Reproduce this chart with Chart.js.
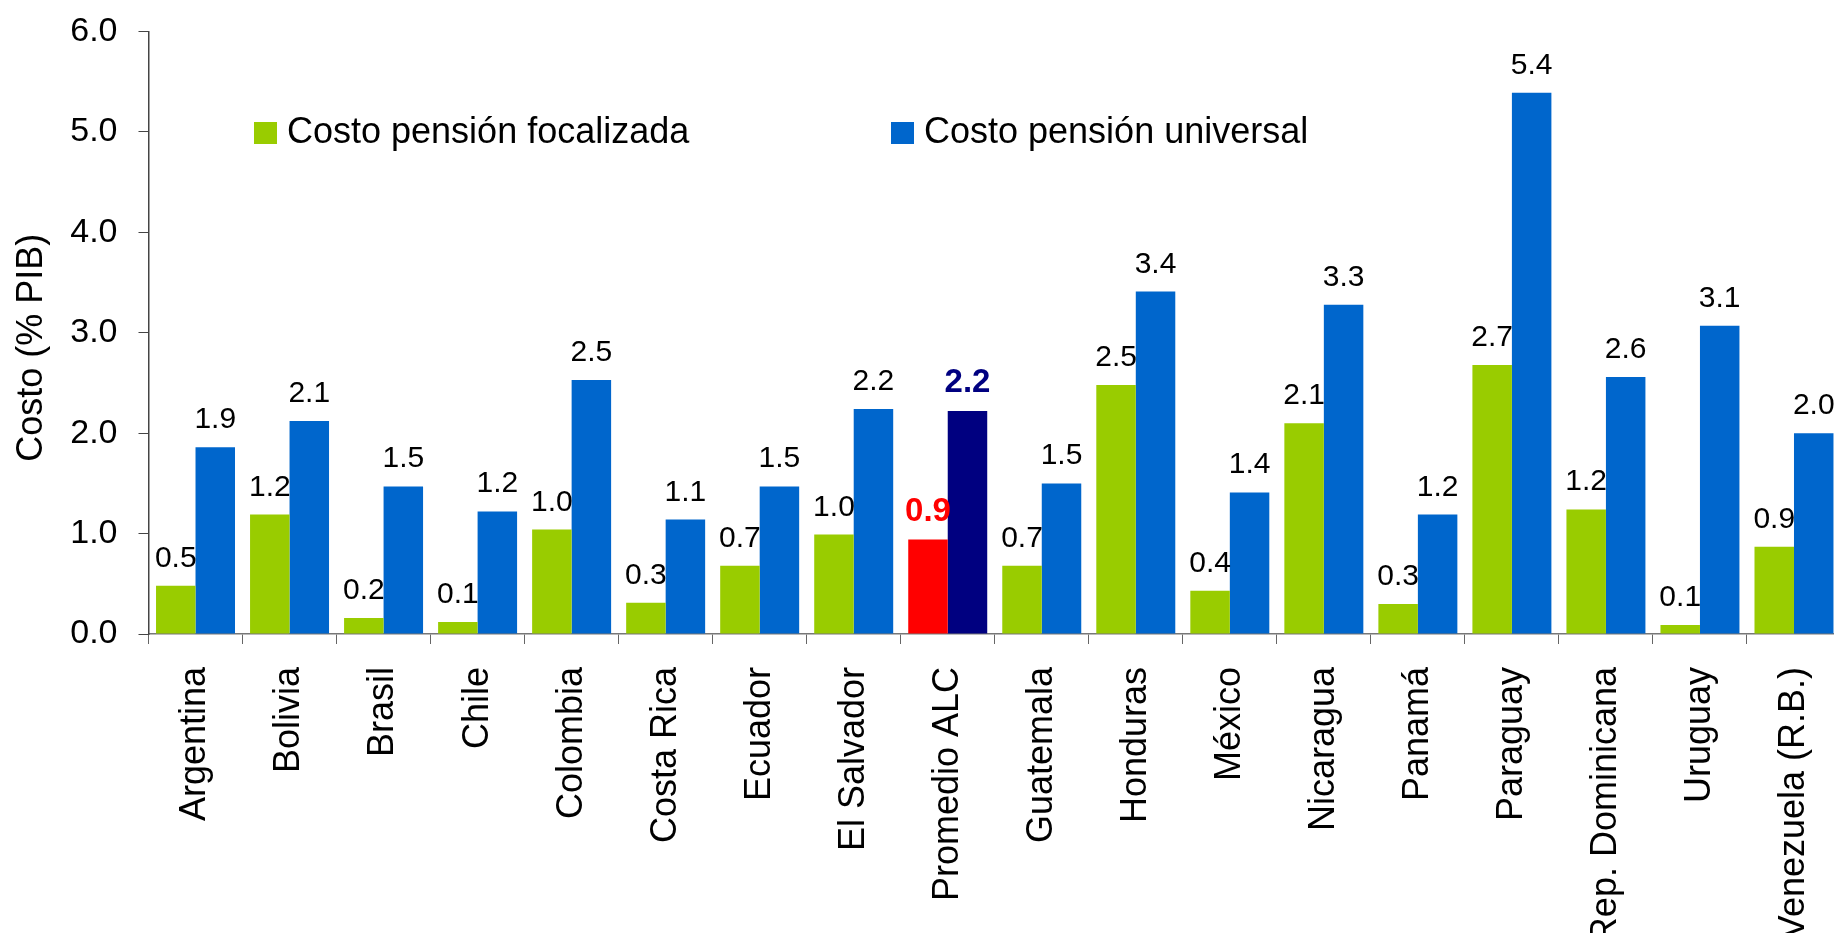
<!DOCTYPE html>
<html>
<head>
<meta charset="utf-8">
<title>Costo pensión</title>
<script src="https://cdn.jsdelivr.net/npm/chart.js@4/dist/chart.umd.min.js"></script>
<style>
  html, body { margin: 0; padding: 0; background: #fff; overflow: hidden; }
  canvas { display: block; }
</style>
</head>
<body>
<canvas id="costChart" width="1841" height="933"></canvas>
<script>
var countries = ["Argentina", "Bolivia", "Brasil", "Chile", "Colombia", "Costa Rica", "Ecuador",
  "El Salvador", "Promedio ALC", "Guatemala", "Honduras", "México", "Nicaragua", "Panamá",
  "Paraguay", "Rep. Dominicana", "Uruguay", "Venezuela (R.B.)"];
var focalizada = [0.48, 1.19, 0.16, 0.12, 1.04, 0.31, 0.68, 0.99, 0.94, 0.68, 2.48, 0.43, 2.10, 0.30, 2.68, 1.24, 0.09, 0.87];
var universal = [1.86, 2.12, 1.47, 1.22, 2.53, 1.14, 1.47, 2.24, 2.22, 1.50, 3.41, 1.41, 3.28, 1.19, 5.39, 2.56, 3.07, 2.00];
var seriesNames = ["Costo pensión focalizada", "Costo pensión universal"];
var yTicks = [0, 1, 2, 3, 4, 5, 6];
var yTitle = "Costo (% PIB)";

var FONT = "'Liberation Sans', Arial, sans-serif";
var GREEN = "#99CC00", BLUE = "#0066CC", RED = "#FF0000", NAVY = "#000080";
var avgIndex = countries.indexOf("Promedio ALC");

// promedio bars get their own colours
var greenColors = countries.map(function (c, i) { return i === avgIndex ? RED : GREEN; });
var blueColors = countries.map(function (c, i) { return i === avgIndex ? NAVY : BLUE; });

// value labels above each bar
var valueLabels = {
  id: "valueLabels",
  afterDatasetsDraw: function (chart) {
    var ctx = chart.ctx;
    ctx.save();
    ctx.textAlign = "center";
    ctx.textBaseline = "alphabetic";
    chart.data.datasets.forEach(function (ds, d) {
      chart.getDatasetMeta(d).data.forEach(function (bar, i) {
        if (i === avgIndex) {
          ctx.font = "bold 33px " + FONT;
          ctx.fillStyle = d === 0 ? RED : NAVY;
        } else {
          ctx.font = "30px " + FONT;
          ctx.fillStyle = "#000";
        }
        ctx.fillText(ds.data[i].toFixed(1), bar.x, bar.y - 19);
      });
    });
    ctx.restore();
  }
};

// legend sits inside the plot area
var innerLegend = {
  id: "innerLegend",
  afterDraw: function (chart) {
    var ctx = chart.ctx;
    var items = [{ x: 254, color: GREEN }, { x: 891, color: BLUE }];
    ctx.save();
    ctx.font = "36px " + FONT;
    ctx.textBaseline = "middle";
    ctx.textAlign = "left";
    items.forEach(function (it, k) {
      ctx.fillStyle = it.color;
      ctx.fillRect(it.x, 122, 23, 22);
      ctx.fillStyle = "#000";
      ctx.fillText(seriesNames[k], it.x + 33, 133);
    });
    ctx.restore();
  }
};

new Chart("costChart", {
  type: "bar",
  data: {
    labels: countries,
    datasets: [
      { label: seriesNames[0], data: focalizada, backgroundColor: greenColors },
      { label: seriesNames[1], data: universal, backgroundColor: blueColors }
    ]
  },
  options: {
    responsive: false,
    animation: false,
    devicePixelRatio: 1,
    categoryPercentage: 0.84,
    barPercentage: 1.0,
    layout: { padding: { top: 31.5, left: 0, right: 0, bottom: 0 } },
    plugins: {
      legend: { display: false },
      tooltip: { enabled: false }
    },
    scales: {
      x: {
        grid: { drawOnChartArea: false, offset: true, tickLength: 10, color: "#666" },
        border: { color: "#777", width: 1.5 },
        ticks: {
          color: "#000",
          font: { family: FONT, size: 36 },
          minRotation: 90,
          maxRotation: 90,
          autoSkip: false,
          padding: 23
        },
        afterFit: function (scale) {
          scale.height = 299;
          scale.paddingLeft = 0;
          scale.paddingRight = 0;
        }
      },
      y: {
        min: 0,
        max: 6,
        afterBuildTicks: function (scale) {
          scale.ticks = yTicks.map(function (v) { return { value: v }; });
        },
        grid: { drawOnChartArea: false, tickLength: 10, color: "#444" },
        border: { color: "#444", width: 1.5 },
        ticks: {
          color: "#000",
          font: { family: FONT, size: 34 },
          padding: 21,
          callback: function (v) { return Number(v).toFixed(1); }
        },
        title: {
          display: true,
          // trailing spaces nudge the title a bit lower, as in the original
          text: yTitle + "   ",
          color: "#000",
          font: { family: FONT, size: 36 },
          padding: { top: 10, bottom: 0 }
        },
        afterFit: function (scale) {
          scale.width = 148.5;
          scale.paddingTop = 0;
          scale.paddingBottom = 0;
        }
      }
    }
  },
  plugins: [valueLabels, innerLegend]
});
</script>
</body>
</html>
